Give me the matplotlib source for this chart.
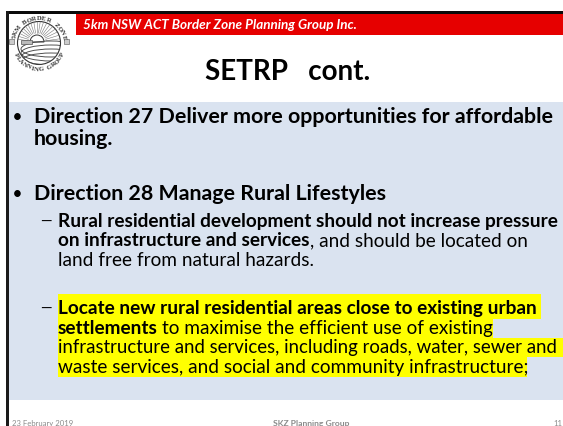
import numpy as np
import matplotlib
matplotlib.use('Agg')
import matplotlib.pyplot as plt
from matplotlib.patches import Rectangle, Circle, Ellipse, Wedge

plt.rcParams['font.family'] = ['Lato', 'DejaVu Sans']

banner = '5km NSW ACT Border Zone Planning Group Inc.'
title = 'SETRP   cont.'
footer_date = '23 February 2019'
footer_mid = 'SKZ Planning Group'
footer_page = '11'
logo_top = '5KM BORDER ZONE'
logo_bottom = 'PLANNING GROUP'

fig = plt.figure(figsize=(5.63, 4.27), dpi=100)
ax = fig.add_axes([0, 0, 1, 1])
ax.set_xlim(0, 563)
ax.set_ylim(427, 0)
ax.axis('off')


def rect(x0, y0, x1, y1, color, z=1):
    ax.add_patch(Rectangle((x0, y0), x1 - x0, y1 - y0, fc=color, ec='none', zorder=z))


def txt(x, y, s, size, bold=False, italic=False, color='black', ha='left'):
    return ax.text(x, y, s, fontsize=size, fontweight='bold' if bold else 'normal',
                   fontstyle='italic' if italic else 'normal', color=color, ha=ha,
                   va='baseline', zorder=5)


def after(t):
    # x where the previous text run stops
    return t.get_window_extent(fig.canvas.get_renderer()).x1


# frame and banner
rect(6, 12, 563, 15, '#0a0a0a')
rect(6, 12, 9, 427, '#1a1a1a')
rect(76, 15, 563, 36, '#e60000')
rect(9, 103, 563, 401, '#dae3f0')

txt(83, 29, banner, 9.76, bold=True, italic=True, color='white')
txt(288, 80, title, 20, bold=True, ha='center')

# logo
cx, cy = 39, 44
clip = Circle((cx, cy), 21.5, fc='white', ec='#333333', lw=0.8, zorder=2)
ax.add_patch(clip)
for a in np.linspace(8, 172, 19):
    t = np.radians(a)
    ln, = ax.plot([cx - 2 + 9 * np.cos(t), cx - 2 + 24 * np.cos(t)], [cy - 1 - 9 * np.sin(t), cy - 1 - 24 * np.sin(t)],
                  color='#777777', lw=0.4, zorder=3)
    ln.set_clip_path(clip)
ax.add_patch(Wedge((cx - 2, cy - 1), 7, 180, 360, fc='white', ec='#333333', lw=0.7, zorder=3))
for off in (0, 4, 8, 12):
    e = Ellipse((cx + 12, cy + 6 + off), 60, 16, fc='none', ec='#444444', lw=0.65, zorder=3)
    ax.add_patch(e)
    e.set_clip_path(clip)
bldg = Rectangle((cx - 18, cy - 3), 11, 4, fc='#bbbbbb', ec='#555555', lw=0.5, zorder=3)
ax.add_patch(bldg)
bldg.set_clip_path(clip)
ax.add_patch(Rectangle((8.5, 40), 5, 5, fc='#cccccc', ec='#555555', lw=0.4, zorder=3))
ax.add_patch(Rectangle((63.5, 40), 5, 5, fc='#cccccc', ec='#555555', lw=0.4, zorder=3))
for i, ch in enumerate(logo_top):
    t = np.radians(165 - i * 150 / (len(logo_top) - 1))
    ax.text(cx + 25.5 * np.cos(t), cy - 25.5 * np.sin(t), ch, fontsize=4.8, family='Liberation Serif', fontweight='bold',
            rotation=np.degrees(t) - 90, ha='center', va='center', color='#333333', zorder=5)
for i, ch in enumerate(logo_bottom):
    t = np.radians(205 + i * 130 / (len(logo_bottom) - 1))
    ax.text(cx + 25.5 * np.cos(t), cy - 25.5 * np.sin(t), ch, fontsize=4.8, family='Liberation Serif', fontweight='bold',
            rotation=np.degrees(t) + 90, ha='center', va='center', color='#333333', zorder=5)

# highlights
rect(57.5, 295, 541, 320, '#ffff00')
rect(57.5, 320, 493, 339, '#ffff00')
rect(57.5, 339, 563, 358, '#ffff00')
rect(57.5, 358, 527, 377.5, '#ffff00')

# body
txt(13, 121, '•', 11, bold=True)
txt(34, 123, 'Direction 27 Deliver more opportunities for affordable', 15.4, bold=True)
txt(34, 145, 'housing.', 15.4, bold=True)
txt(13, 198, '•', 11, bold=True)
txt(34, 200, 'Direction 28 Manage Rural Lifestyles', 15.4, bold=True)
txt(40, 225.5, '—', 10.5)
txt(58, 227, 'Rural residential development should not increase pressure', 13.7, bold=True)
t = txt(58, 246, 'on infrastructure and services', 13.7, bold=True)
txt(after(t), 246, ', and should be located on', 13.7)
txt(58, 266, 'land free from natural hazards.', 13.7)
txt(40, 313, '—', 10.5)
txt(58, 314, 'Locate new rural residential areas close to existing urban', 13.7, bold=True)
t = txt(58, 334, 'settlements', 13.7, bold=True)
txt(after(t) + 4, 334, 'to maximise the efficient use of existing', 13.7)
txt(58, 353, 'infrastructure and services, including roads, water, sewer and', 13.4)
txt(58, 373, 'waste services, and social and community infrastructure;', 13.7)

# footer
txt(12, 426, footer_date, 5.6, color='#8a8a8a')
txt(311.5, 426, footer_mid, 6.1, bold=True, color='#8a8a8a', ha='center')
txt(562, 426, footer_page, 5.6, color='#8a8a8a', ha='right')

fig.savefig('out.png', dpi=100)
